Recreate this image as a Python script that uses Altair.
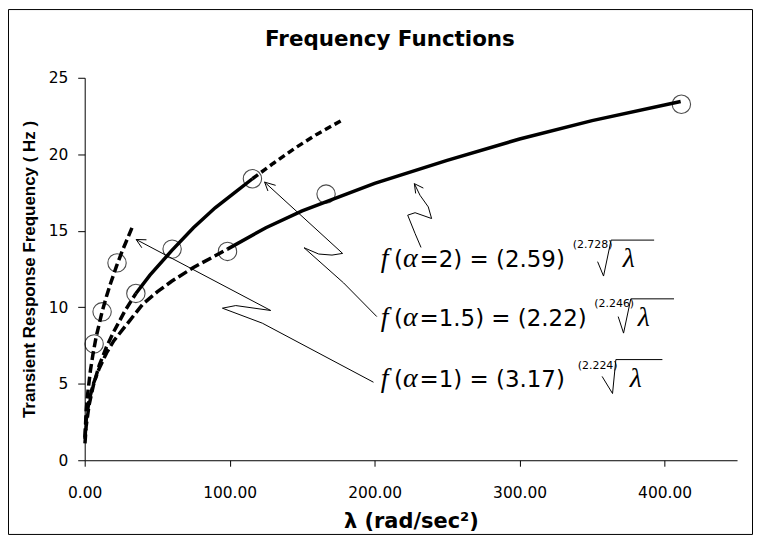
import altair as alt
import pandas as pd

# ---------------- fitted curves ----------------
a1_x = [0.2, 1, 2, 4, 6, 8, 10, 12, 15, 18, 22, 26, 30, 33.5]
a1_y = [1.5, 3.2, 4.3, 5.9, 7.1, 8.1, 8.9, 9.7, 10.7, 11.6, 12.7, 13.7, 14.6, 15.4]

a15_x = [0.2, 1, 3, 6, 10, 15, 20, 28, 35.3, 45, 60, 75, 90, 105, 115.7, 130, 145, 160, 177]
a15_y = [1.1, 2.2, 3.6, 4.9, 6.2, 7.4, 8.4, 9.8, 10.9, 12.1, 13.7, 15.2, 16.5, 17.6, 18.4, 19.4, 20.4, 21.3, 22.2]

a2_x = [0.2, 1, 3, 6, 10, 15, 20, 30, 40, 50, 60, 75, 98.5, 125, 150, 175, 200, 250, 300, 350, 411.1]
a2_y = [1.4, 2.6, 3.9, 5.0, 6.0, 7.0, 7.8, 9.0, 10.2, 11.0, 11.7, 12.6, 13.8, 15.2, 16.3, 17.2, 18.1, 19.6, 21.0, 22.2, 23.45]

# ---------------- measured points (open circles) ----------------
m_x = [6.5, 12.0, 22.3, 35.3, 60.3, 115.7, 98.5, 166.5, 411.6]
m_y = [7.6, 9.7, 12.9, 10.9, 13.8, 18.4, 13.65, 17.4, 23.27]

# ---------------- annotation arrows (data units) ----------------
arr1_x = [199.2, 122.5, 95.0, 104.2, 128.3, 35.5]
arr1_y = [5.10, 8.96, 9.94, 10.11, 9.79, 14.43]
head1_x = [39.4, 35.5, 42.6]
head1_y = [13.89, 14.43, 14.41]

arr15_x = [201.5, 178.6, 151.3, 161.4, 170.6, 177.9, 124.1]
arr15_y = [9.39, 11.59, 13.89, 13.48, 13.41, 13.52, 18.18]
head15_x = [126.4, 124.1, 131.7]
head15_y = [17.60, 18.18, 17.97]

arr2_x = [232.0, 227.9, 222.8, 227.9, 239.3, 237.0, 231.3, 227.4]
arr2_y = [13.91, 14.82, 16.02, 16.18, 15.80, 16.56, 17.32, 18.08]
head2_x = [228.3, 227.4, 233.6]
head2_y = [17.44, 18.08, 17.79]

# ---------------- equation labels ----------------
eq_rest = ["=2) = (2.59)", "=1.5) = (2.22)", "=1) = (3.17)"]
eq_root = ["(2.728)", "(2.246)", "(2.224)"]
eq_base_y = [12.60, 8.79, 4.77]
eq_f_x = 204.2
eq_paren_x = 213.4
eq_alpha_x = 219.6
eq_rest_x = 231.0
eq_lambda_x = [371.2, 381.5, 376.0]
eq_sup_x = [336.6, 351.5, 340.1]
eq_sup_y = [13.87, 10.03, 5.99]
rad_x = [[353.8, 357.9, 363.1, 392.8], [368.0, 371.7, 376.7, 406.5], [356.9, 364.1, 366.4, 398.5]]
rad_y = [[12.98, 12.04, 14.39, 14.39], [9.39, 8.31, 10.55, 10.55], [5.48, 4.36, 6.58, 6.58]]

W, H = 655, 384
PAD = {"left": 77, "top": 69, "right": 16, "bottom": 75}


def X():
    return alt.X("x:Q", scale=alt.Scale(domain=[0, 450], nice=False),
                 axis=alt.Axis(values=[0, 100, 200, 300, 400], format=".2f",
                               title="λ  (rad/sec²)", tickSize=6, labelPadding=19,
                               labelFlush=False, labelOverlap=False,
                               titleFont="DejaVu Sans", titleFontSize=21,
                               titleFontWeight="bold", titleBaseline="alphabetic",
                               titleY=68))


def Y():
    return alt.Y("y:Q", scale=alt.Scale(domain=[0, 25], nice=False),
                 axis=alt.Axis(values=[0, 5, 10, 15, 20, 25], format="d",
                               title="Transient Response Frequency ( Hz )",
                               tickSize=7, labelPadding=10, labelFlush=False,
                               titleFont="Liberation Sans", titleFontSize=17,
                               titleFontWeight="bold", titleAngle=270,
                               titleBaseline="alphabetic", titleX=-50, titleY=H / 2))


def seg(xs, ys, lo, hi):
    df = pd.DataFrame({"x": xs, "y": ys})
    return df[(df.x >= lo) & (df.x <= hi)].reset_index(drop=True)


def curve(df, dash=None, width=3.5):
    kw = dict(color="black", strokeWidth=width, strokeCap="butt")
    if dash:
        kw["strokeDash"] = dash
    return alt.Chart(df).mark_line(**kw).encode(x=X(), y=Y())


layers = [
    curve(seg(a1_x, a1_y, 0, 1000), [9, 4]),
    curve(seg(a15_x, a15_y, 0, 35.3), [9, 4]),
    curve(seg(a15_x, a15_y, 35.3, 115.7)),
    curve(seg(a15_x, a15_y, 115.7, 1000), [7, 4]),
    curve(seg(a2_x, a2_y, 0, 98.5), [10, 4]),
    curve(seg(a2_x, a2_y, 98.5, 1000)),
]

pts = pd.DataFrame({"x": m_x, "y": m_y})
layers.append(alt.Chart(pts).mark_point(shape="circle", size=340, color="black",
                                        strokeWidth=1.1, filled=False).encode(x=X(), y=Y()))

# arrows and radical signs
rows = []
for name, xs, ys in [("a1", arr1_x, arr1_y), ("h1", head1_x, head1_y),
                     ("a15", arr15_x, arr15_y), ("h15", head15_x, head15_y),
                     ("a2", arr2_x, arr2_y), ("h2", head2_x, head2_y)]:
    for i, (xx, yy) in enumerate(zip(xs, ys)):
        rows.append({"part": name, "i": i, "x": xx, "y": yy})
for k in range(3):
    for i, (xx, yy) in enumerate(zip(rad_x[k], rad_y[k])):
        rows.append({"part": f"r{k}", "i": i, "x": xx, "y": yy})
paths = pd.DataFrame(rows)
layers.append(alt.Chart(paths).mark_line(color="black", strokeWidth=1, strokeJoin="round").encode(
    x=X(), y=Y(), detail="part:N", order="i:Q"))

# texts
serif = pd.DataFrame({
    "t": ["f"] * 3 + ["α"] * 3 + ["λ"] * 3,
    "x": [eq_f_x] * 3 + [eq_alpha_x] * 3 + eq_lambda_x,
    "y": eq_base_y * 3,
})
layers.append(alt.Chart(serif).mark_text(font="Liberation Serif", fontStyle="italic", fontSize=28,
                                         align="left", baseline="alphabetic", color="black").encode(
    x=X(), y=Y(), text="t:N"))

sans = pd.DataFrame({
    "t": ["("] * 3 + eq_rest,
    "x": [eq_paren_x] * 3 + [eq_rest_x] * 3,
    "y": eq_base_y * 2,
})
layers.append(alt.Chart(sans).mark_text(font="DejaVu Sans", fontSize=23,
                                        align="left", baseline="alphabetic", color="black").encode(
    x=X(), y=Y(), text="t:N"))

sup = pd.DataFrame({"t": eq_root, "x": eq_sup_x, "y": eq_sup_y})
layers.append(alt.Chart(sup).mark_text(font="DejaVu Sans", fontSize=11,
                                       align="left", baseline="alphabetic", color="black").encode(
    x=X(), y=Y(), text="t:N"))

# outer frame
frame = alt.Chart(alt.Data(values=[{}])).mark_rect(fillOpacity=0, stroke="black", strokeWidth=1).encode(
    x=alt.value(-PAD["left"] + 0.5), x2=alt.value(W + PAD["right"] - 0.5),
    y=alt.value(-PAD["top"] + 0.5), y2=alt.value(H + PAD["bottom"] - 0.5))
layers.append(frame)

chart = alt.layer(*layers).properties(
    width=W, height=H,
    autosize=alt.AutoSizeParams(type="none"),
    padding=PAD,
    title=alt.TitleParams("Frequency Functions", font="DejaVu Sans", fontSize=21.5,
                          fontWeight="bold", anchor="middle", dx=-21, offset=0, dy=58.7,
                          baseline="alphabetic", color="black"),
    background="white",
).configure_axis(
    domainColor="black", tickColor="black", labelColor="black", titleColor="black",
    grid=False, labelFont="DejaVu Sans", labelFontSize=15.5, domainWidth=1, tickWidth=1,
).configure_view(stroke=None)

chart.save("out.html", embed_options={"renderer": "svg", "actions": False})
